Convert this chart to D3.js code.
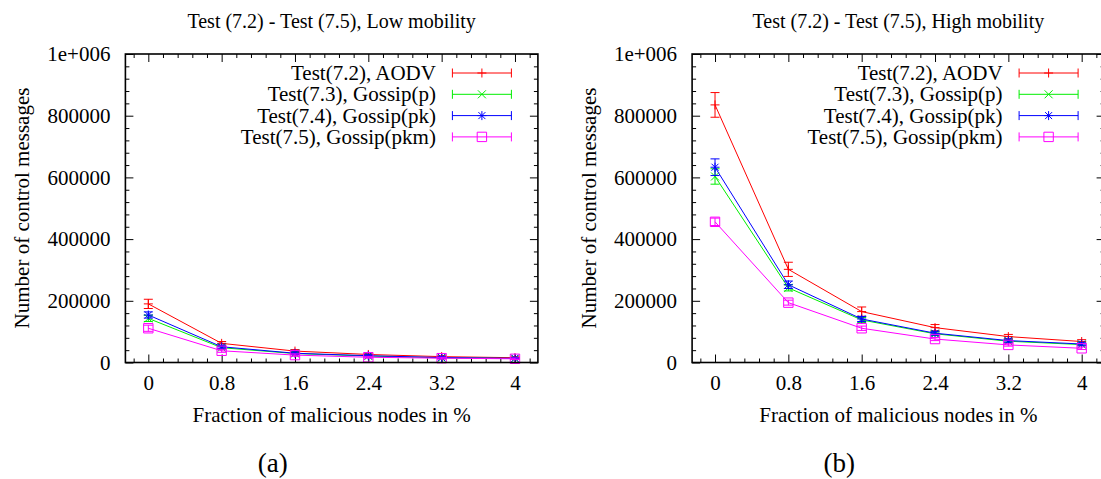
<!DOCTYPE html>
<html>
<head>
<meta charset="utf-8">
<script src="https://cdn.jsdelivr.net/npm/d3@7"></script>
<style>
  body { margin: 0; background: #fff; }
  svg text { font-family: "Liberation Serif", "Times New Roman", serif; fill: #000; }
</style>
</head>
<body>
<svg id="chart" width="1101" height="479"></svg>
<script>
const fractions = [0, 0.8, 1.6, 2.4, 3.2, 4];
const yTicks = [0, 200000, 400000, 600000, 800000, 1000000];
const seriesNames = ['Test(7.2), AODV', 'Test(7.3), Gossip(p)', 'Test(7.4), Gossip(pk)', 'Test(7.5), Gossip(pkm)'];
const seriesColors = ['#ff0000', '#00ee00', '#0000ff', '#ff00ff'];
const seriesMarks = ['plus', 'cross', 'star', 'square'];

// low mobility
const aodvLow = [190000, 62000, 37000, 26000, 19000, 15500];
const gossipPLow = [143000, 48000, 29000, 21000, 15000, 13000];
const gossipPkLow = [154000, 51000, 30000, 22000, 16000, 13500];
const gossipPkmLow = [111000, 38000, 24000, 17000, 14000, 12000];
const aodvLowErr = [15000, 6000, 5000, 4000, 3000, 3000];
const gossipPLowErr = [10000, 5000, 4000, 3000, 3000, 2500];
const gossipPkLowErr = [10000, 5000, 4000, 3000, 3000, 2500];
const gossipPkmLowErr = [10000, 5000, 4000, 3000, 3000, 2500];

// high mobility
const aodvHigh = [835000, 302000, 165000, 113000, 84000, 68000];
const gossipPHigh = [603000, 242000, 138000, 93000, 69000, 58000];
const gossipPkHigh = [633000, 252000, 141000, 95000, 71000, 60000];
const gossipPkmHigh = [456000, 194000, 111000, 76000, 57000, 46000];
const aodvHighErr = [40000, 23000, 15000, 10000, 7000, 6000];
const gossipPHighErr = [25000, 10000, 8000, 6000, 5000, 4000];
const gossipPkHighErr = [27000, 12000, 8000, 6000, 5000, 4000];
const gossipPkmHighErr = [12000, 8000, 7000, 5000, 4000, 4000];

const panels = [
  {
    title: 'Test (7.2) - Test (7.5), Low mobility', tag: '(a)', left: 125.4,
    values: [aodvLow, gossipPLow, gossipPkLow, gossipPkmLow],
    errors: [aodvLowErr, gossipPLowErr, gossipPkLowErr, gossipPkmLowErr],
  },
  {
    title: 'Test (7.2) - Test (7.5), High mobility', tag: '(b)', left: 692.1,
    values: [aodvHigh, gossipPHigh, gossipPkHigh, gossipPkmHigh],
    errors: [aodvHighErr, gossipPHighErr, gossipPkHighErr, gossipPkmHighErr],
  },
];

const plotW = 412.5;
const plotTop = 54;
const plotBottom = 362.5;
const fs = 21;

const svg = d3.select('#chart');

const markPath = (kind) => {
  if (kind === 'plus') return 'M-4.5,0H4.5M0,-4.5V4.5';
  if (kind === 'cross') return 'M-4,-4L4,4M-4,4L4,-4';
  if (kind === 'star') return 'M-4.5,0H4.5M0,-4.5V4.5M-3.5,-3.5L3.5,3.5M-3.5,3.5L3.5,-3.5';
  return 'M-4.7,-4.7H4.7V4.7H-4.7Z';
};

const yFmt = (d) => (d === 1000000 ? '1e+006' : String(d));

panels.forEach((p) => {
  const x = d3.scaleLinear().domain([-0.25, 4.25]).range([p.left, p.left + plotW]);
  const y = d3.scaleLinear().domain([0, 1000000]).range([plotBottom, plotTop]);
  const g = svg.append('g');

  const minorX = d3.range(-0.16, 4.2, 0.16).filter((v) => Math.abs(v / 0.8 - Math.round(v / 0.8)) > 0.01);
  const minorY = d3.range(40000, 1000000, 40000).filter((v) => v % 200000 !== 0);

  const styleAxis = (sel) => {
    sel.select('.domain').remove();
    sel.selectAll('line').attr('stroke', '#000').attr('stroke-width', 1);
    sel.selectAll('text').style('font-size', `${fs}px`).style('font-family', '"Liberation Serif", serif');
  };

  // major ticks with labels
  g.append('g').attr('transform', `translate(0,${plotBottom})`)
    .call(d3.axisBottom(x).tickValues(fractions).tickFormat((d) => String(d)).tickSize(-8).tickPadding(13))
    .call(styleAxis);
  g.append('g').attr('transform', `translate(${p.left},0)`)
    .call(d3.axisLeft(y).tickValues(yTicks).tickFormat(yFmt).tickSize(-8).tickPadding(15))
    .call(styleAxis);
  // mirrored ticks
  g.append('g').attr('transform', `translate(0,${plotTop})`)
    .call(d3.axisTop(x).tickValues(fractions).tickFormat('').tickSize(-8))
    .call(styleAxis);
  g.append('g').attr('transform', `translate(${p.left + plotW},0)`)
    .call(d3.axisRight(y).tickValues(yTicks).tickFormat('').tickSize(-8))
    .call(styleAxis);
  // minor ticks
  g.append('g').attr('transform', `translate(0,${plotBottom})`)
    .call(d3.axisBottom(x).tickValues(minorX).tickFormat('').tickSize(-4)).call(styleAxis);
  g.append('g').attr('transform', `translate(0,${plotTop})`)
    .call(d3.axisTop(x).tickValues(minorX).tickFormat('').tickSize(-4)).call(styleAxis);
  g.append('g').attr('transform', `translate(${p.left},0)`)
    .call(d3.axisLeft(y).tickValues(minorY).tickFormat('').tickSize(-4)).call(styleAxis);
  g.append('g').attr('transform', `translate(${p.left + plotW},0)`)
    .call(d3.axisRight(y).tickValues(minorY).tickFormat('').tickSize(-4)).call(styleAxis);

  // series
  const line = d3.line().x((d) => x(d[0])).y((d) => y(d[1]));
  p.values.forEach((vals, i) => {
    const col = seriesColors[i];
    const pts = fractions.map((f, j) => [f, vals[j], p.errors[i][j]]);
    const sg = g.append('g');
    sg.append('path').datum(pts).attr('d', line)
      .attr('fill', 'none').attr('stroke', col).attr('stroke-width', 1);
    const eb = sg.selectAll('g.err').data(pts).enter().append('g');
    eb.append('line')
      .attr('x1', (d) => x(d[0])).attr('x2', (d) => x(d[0]))
      .attr('y1', (d) => y(d[1] - d[2])).attr('y2', (d) => y(d[1] + d[2]))
      .attr('stroke', col);
    eb.append('line')
      .attr('x1', (d) => x(d[0]) - 4.5).attr('x2', (d) => x(d[0]) + 4.5)
      .attr('y1', (d) => y(d[1] + d[2])).attr('y2', (d) => y(d[1] + d[2]))
      .attr('stroke', col);
    eb.append('line')
      .attr('x1', (d) => x(d[0]) - 4.5).attr('x2', (d) => x(d[0]) + 4.5)
      .attr('y1', (d) => y(d[1] - d[2])).attr('y2', (d) => y(d[1] - d[2]))
      .attr('stroke', col);
    sg.selectAll('path.mark').data(pts).enter().append('path')
      .attr('class', 'mark')
      .attr('transform', (d) => `translate(${x(d[0])},${y(d[1])})`)
      .attr('d', markPath(seriesMarks[i]))
      .attr('fill', 'none').attr('stroke', col).attr('stroke-width', 1);
  });

  // legend
  const lgEnd = p.left + plotW - 26.5;
  const lgStart = lgEnd - 59;
  seriesNames.forEach((name, i) => {
    const cy = 73 + i * 21.3;
    const col = seriesColors[i];
    const lg = g.append('g');
    lg.append('text').attr('x', lgStart - 16.5).attr('y', cy + 7)
      .attr('text-anchor', 'end').style('font-size', `${fs}px`).text(name);
    lg.append('line').attr('x1', lgStart).attr('x2', lgEnd).attr('y1', cy).attr('y2', cy).attr('stroke', col);
    [lgStart, lgEnd].forEach((ex) => {
      lg.append('line').attr('x1', ex).attr('x2', ex).attr('y1', cy - 4.5).attr('y2', cy + 4.5).attr('stroke', col);
    });
    lg.append('path').attr('transform', `translate(${(lgStart + lgEnd) / 2},${cy})`)
      .attr('d', markPath(seriesMarks[i])).attr('fill', 'none').attr('stroke', col);
  });

  // frame
  g.append('rect').attr('x', p.left).attr('y', plotTop).attr('width', plotW).attr('height', plotBottom - plotTop)
    .attr('fill', 'none').attr('stroke', '#000').attr('stroke-width', 1.6);

  const cx = p.left + plotW / 2;
  g.append('text').attr('x', cx).attr('y', 28).attr('text-anchor', 'middle')
    .style('font-size', '20px').text(p.title);
  g.append('text').attr('x', cx).attr('y', 422).attr('text-anchor', 'middle')
    .style('font-size', `${fs}px`).text('Fraction of malicious nodes in %');
  g.append('text').attr('transform', `translate(${p.left - 96.5},${208}) rotate(-90)`)
    .attr('text-anchor', 'middle').style('font-size', `${fs}px`).text('Number of control messages');
  g.append('text').attr('x', cx - 59).attr('y', 472).attr('text-anchor', 'middle')
    .style('font-size', '27px').text(p.tag);
});
</script>
</body>
</html>
